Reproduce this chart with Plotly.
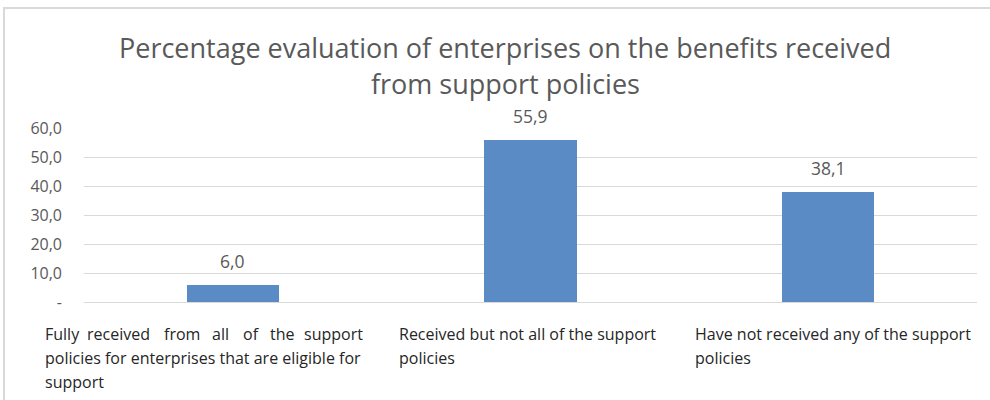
import plotly.graph_objects as go

# Survey results: share of enterprises by benefit received from support policies (%)
categories = [
    "Fully received from all of the support<br>policies for enterprises that are eligible for<br>support",
    "Received but not all of the support<br>policies",
    "Have not received any of the support<br>policies",
]
values = [6.0, 55.9, 38.1]
tick_values = [0, 10, 20, 30, 40, 50, 60]
tick_labels = ["-", "10,0", "20,0", "30,0", "40,0", "50,0", "60,0"]
title_lines = [
    "Percentage evaluation of enterprises on the benefits received",
    "from support policies",
]

W, H = 990, 400
L, R, T, B = 84, 13, 128, 98
plot_w = W - L - R
plot_h = H - T - B


def px_x(p):
    return (p - L) / plot_w


def px_y(p):
    return (H - B - p) / plot_h


FONT = "Open Sans, Liberation Sans, sans-serif"
GREY = "#595959"
LABEL_SIZE = 16

fig = go.Figure(
    go.Bar(
        x=[0, 1, 2],
        y=values,
        width=0.31,
        marker=dict(color="#5b8bc5", line=dict(width=0)),
        hoverinfo="skip",
    )
)

annotations = []
# chart title, one annotation per line for Office-like line spacing
for i, line in enumerate(title_lines):
    annotations.append(
        dict(
            text=line,
            xref="paper", yref="paper",
            x=px_x(505), y=px_y(47 + 36 * i),
            xanchor="center", yanchor="middle",
            showarrow=False,
            font=dict(family=FONT, size=27, color=GREY),
        )
    )

# value labels above bars
for i, v in enumerate(values):
    annotations.append(
        dict(
            text=f"{v:.1f}".replace(".", ","),
            x=i, y=v,
            xref="x", yref="y",
            xanchor="center", yanchor="bottom",
            yshift=10,
            showarrow=False,
            font=dict(family=FONT, size=17.5, color=GREY),
        )
    )


def label(text, x, y):
    return dict(
        text=text,
        xref="paper", yref="paper",
        x=px_x(x), y=px_y(y),
        xanchor="left", yanchor="middle",
        showarrow=False,
        align="left",
        font=dict(family=FONT, size=LABEL_SIZE, color="#262626"),
    )


# wrapped category labels under the axis; first line of the first label is justified
label_x = [43, 397, 693]
first_line_word_x = [43, 85, 162, 210, 241, 268, 302]
for k, (lx, cat) in enumerate(zip(label_x, categories)):
    lines = cat.split("<br>")
    for j, line in enumerate(lines):
        y = 334 + 24 * j
        if k == 0 and j == 0:
            for wx, word in zip(first_line_word_x, line.split(" ")):
                annotations.append(label(word, wx, y))
        else:
            annotations.append(label(line, lx, y))

fig.update_layout(
    width=W,
    height=H,
    margin=dict(l=L, r=R, t=T, b=B),
    paper_bgcolor="white",
    plot_bgcolor="white",
    showlegend=False,
    bargap=0,
    xaxis=dict(
        range=[-0.5, 2.5],
        showticklabels=False,
        showgrid=False,
        zeroline=False,
        showline=False,
        fixedrange=True,
    ),
    yaxis=dict(
        range=[0, 60],
        tickvals=tick_values,
        ticktext=tick_labels,
        tickfont=dict(family=FONT, size=16, color=GREY),
        showgrid=True,
        gridcolor="#d9d9d9",
        gridwidth=1,
        zeroline=True,
        zerolinecolor="#d9d9d9",
        zerolinewidth=1,
        showline=False,
        ticks="",
        ticklabelstandoff=21,
        fixedrange=True,
    ),
    annotations=annotations,
    shapes=[
        dict(
            type="rect",
            xref="paper", yref="paper",
            x0=px_x(4), x1=px_x(1000),
            y0=px_y(410), y1=px_y(8),
            line=dict(color="#d9d9d9", width=2),
            fillcolor="rgba(0,0,0,0)",
            layer="below",
        )
    ],
)

fig.write_html("out.html")
